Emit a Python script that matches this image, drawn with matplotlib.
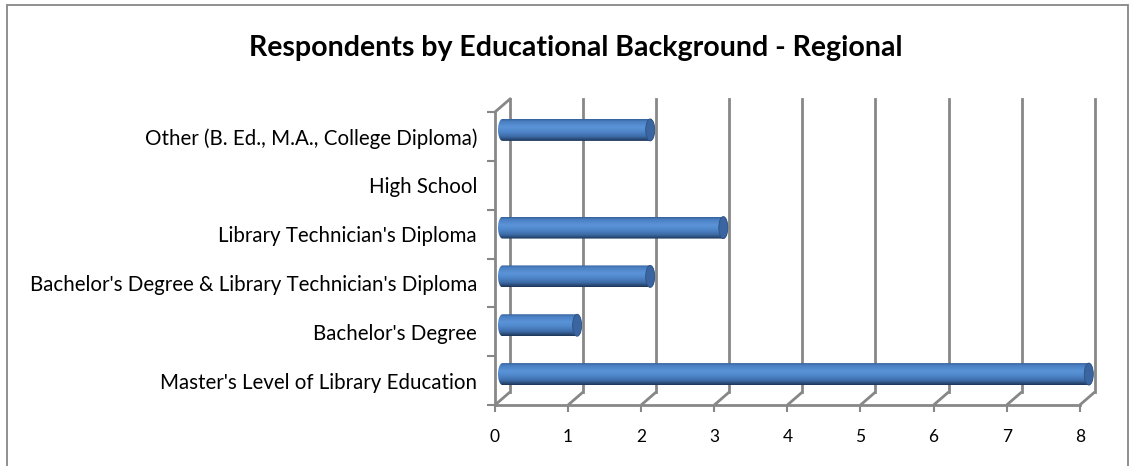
import numpy as np
import matplotlib.pyplot as plt
from matplotlib.patches import Rectangle, Ellipse, PathPatch
from matplotlib.path import Path
from matplotlib.colors import LinearSegmentedColormap

# data
categories = ["Master's Level of Library Education",
              "Bachelor's Degree",
              "Bachelor's Degree & Library Technician's Diploma",
              "Library Technician's Diploma",
              "High School",
              "Other (B. Ed., M.A., College Diploma)"]
values = [8, 1, 2, 3, 0, 2]
xticks = [0, 1, 2, 3, 4, 5, 6, 7, 8]
title = "Respondents by Educational Background - Regional"

plt.rcParams['font.family'] = ['Lato', 'DejaVu Sans']

W, H = 1135, 466
unit = 73.1  # px per value unit
xmax = 8.4
fig = plt.figure(figsize=(W / 100, H / 100), dpi=100)
ax = fig.add_axes([495 / W, (H - 405) / H, xmax * unit / W, (405 - 112) / H])

grid = '#878787'
# depth offset of the back wall (data units)
dx = 15 / unit
dy = 13 / 48.8

# back wall gridlines + floor diagonals
for x in xticks:
    ax.plot([x, x + dx], [-0.5, -0.5 + dy], color=grid, lw=2, clip_on=False, solid_capstyle='butt')
    ax.plot([x + dx, x + dx], [-0.5 + dy, 5.5 + dy], color=grid, lw=2, clip_on=False)
# left wall top diagonal
ax.plot([0, dx], [5.5, 5.5 + dy], color=grid, lw=2, clip_on=False)

# cylinder bars
cmap = LinearSegmentedColormap.from_list('cyl', [
    (0.0, '#34609a'), (0.1, '#4a7fc2'), (0.35, '#5b93d8'),
    (0.55, '#5189cd'), (0.8, '#3d6ca8'), (1.0, '#1d3658')])
grad = np.linspace(0, 1, 64).reshape(-1, 1)
ry = 0.225
rx = 4.5 / unit
t = np.linspace(np.pi / 2, 3 * np.pi / 2, 30)
for i, v in enumerate(values):
    if v <= 0:
        continue
    x0 = dx / 2
    x1 = v + dx / 2 + 1.5 / unit
    yc = i + dy / 2
    left = np.column_stack([x0 + rx * np.cos(t), yc + ry * np.sin(t)])
    right = np.column_stack([x1 - rx * np.cos(t), yc - ry * np.sin(t)])
    pts = np.vstack([left, right, left[:1]])
    patch = PathPatch(Path(pts), facecolor='none', edgecolor='none')
    ax.add_patch(patch)
    im = ax.imshow(grad, cmap=cmap, aspect='auto', interpolation='bilinear',
                   extent=[x0 - rx, x1 + rx, yc - ry, yc + ry], zorder=3)
    im.set_clip_path(patch)
    ax.add_patch(Ellipse((x1, yc), 2 * rx, 2 * ry, facecolor='#3a65a0',
                         edgecolor='#2d5284', lw=0.6, zorder=4))
ax.set_xlim(0, xmax)
ax.set_ylim(-0.5, 5.5)

# front axes
for s in ['top', 'right']:
    ax.spines[s].set_visible(False)
for s in ['left', 'bottom']:
    ax.spines[s].set_color(grid)
    ax.spines[s].set_linewidth(2)
ax.spines['bottom'].set_bounds(0, 8)
ax.set_xticks(xticks)
ax.set_xticklabels([str(x) for x in xticks], fontsize=12.5)
ax.tick_params(axis='x', length=5, width=1.5, color=grid, pad=12)
ax.set_yticks(range(len(categories)))
ax.set_yticklabels(categories, fontsize=14.8)
ax.set_yticks(np.arange(-0.5, 6, 1), minor=True)
ax.tick_params(axis='y', which='major', length=0, pad=13)
ax.tick_params(axis='y', which='minor', length=6, width=1.5, color=grid)
ax.patch.set_visible(False)

fig.text(575.5 / W, 1 - 48 / H, title, ha='center', va='center',
         fontsize=20.5, fontweight='bold')

# chart border
fig.add_artist(Rectangle((7 / W, -0.01), (1128 - 7) / W, (H - 5) / H + 0.01,
                         transform=fig.transFigure, fill=False,
                         edgecolor='#878787', lw=1.3))

fig.savefig('out.png', dpi=100)
